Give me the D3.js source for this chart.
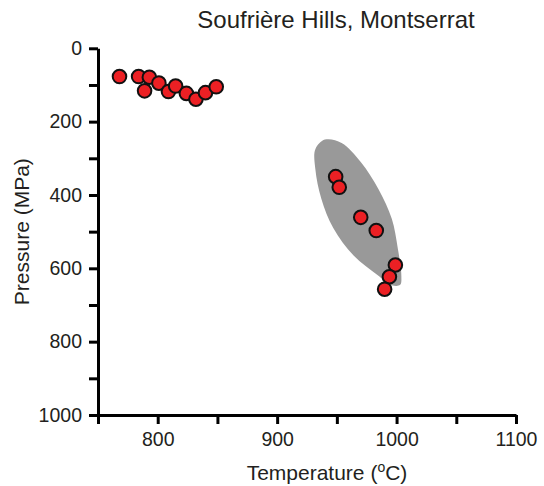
<!DOCTYPE html>
<html>
<head>
<meta charset="utf-8">
<script src="https://cdn.jsdelivr.net/npm/d3@7"></script>
<style>
  body { margin: 0; background: #fff; }
  text { font-family: "Liberation Sans", Arial, sans-serif; fill: #231f20; }
</style>
</head>
<body>
<script>
// Soufriere Hills P-T data
const temperature = [768, 784, 793, 789, 801, 809, 815, 824, 832, 840, 849,
  949, 952, 970, 983, 999, 994, 990];
const pressure = [77, 77, 79, 116, 95, 118, 103, 123, 139, 121, 105,
  350, 379, 461, 497, 591, 623, 657];

// grey field outline (temperature, pressure)
const fieldT = [940, 954, 970, 985, 996, 1001, 1004, 1003, 996, 984, 964, 947, 937, 932, 932];
const fieldP = [249, 258, 310, 385, 465, 545, 620, 645, 646, 618, 565, 490, 410, 330, 275];

const xTicks = [750, 800, 850, 900, 950, 1000, 1050, 1100];
const yTicks = [0, 100, 200, 300, 400, 500, 600, 700, 800, 900, 1000];

const width = 544, height = 486;

var svg = d3.select("body")
  .append("svg")
  .attr("width", width)
  .attr("height", height);

var x = d3.scaleLinear().domain([750, 1100]).range([98, 516]);
var y = d3.scaleLinear().domain([0, 1000]).range([48.3, 415]);

// grey field
var field = fieldT.map((t, i) => [t, fieldP[i]]);
svg.append("path")
  .datum(field)
  .attr("d", d3.line()
    .x(d => x(d[0]))
    .y(d => y(d[1]))
    .curve(d3.curveCatmullRomClosed.alpha(0.5)))
  .attr("fill", "#999999")
  .attr("stroke", "none");

// axes
var xAxis = svg.append("g")
  .attr("transform", "translate(0," + y(1000) + ")")
  .call(d3.axisBottom(x)
    .tickValues(xTicks)
    .tickSize(9)
    .tickSizeOuter(0)
    .tickPadding(8)
    .tickFormat(d => d % 100 === 0 ? d : ""));

var yAxis = svg.append("g")
  .attr("transform", "translate(" + x(750) + ",0)")
  .call(d3.axisLeft(y)
    .tickValues(yTicks)
    .tickSize(9)
    .tickSizeOuter(0)
    .tickPadding(7)
    .tickFormat(d => d % 200 === 0 ? d : ""));

[xAxis, yAxis].forEach(g => {
  g.select(".domain").attr("stroke", "#000").attr("stroke-width", 3);
  g.selectAll(".tick line").attr("stroke", "#000").attr("stroke-width", 3);
  g.selectAll(".tick text")
    .attr("font-family", "Liberation Sans, Arial, sans-serif")
    .attr("font-size", "19.5px")
    .attr("fill", "#231f20");
});

// points
svg.selectAll("circle.pt")
  .data(temperature.map((t, i) => ({ t: t, p: pressure[i] })))
  .enter()
  .append("circle")
  .attr("class", "pt")
  .attr("cx", d => x(d.t))
  .attr("cy", d => y(d.p))
  .attr("r", 6.8)
  .attr("fill", "#ec2024")
  .attr("stroke", "#111")
  .attr("stroke-width", 2);

// title and labels
svg.append("text")
  .attr("x", 336)
  .attr("y", 28)
  .attr("text-anchor", "middle")
  .attr("font-size", "24px")
  .text("Soufrière Hills, Montserrat");

var xl = svg.append("text")
  .attr("x", 327)
  .attr("y", 480)
  .attr("text-anchor", "middle")
  .attr("font-size", "21px");
xl.append("tspan").text("Temperature (");
xl.append("tspan").attr("font-size", "14px").attr("dy", -8).text("o");
xl.append("tspan").attr("dy", 8).text("C)");

svg.append("text")
  .attr("transform", "translate(29," + (y(500)) + ") rotate(-90)")
  .attr("text-anchor", "middle")
  .attr("font-size", "21px")
  .text("Pressure (MPa)");
</script>
</body>
</html>
